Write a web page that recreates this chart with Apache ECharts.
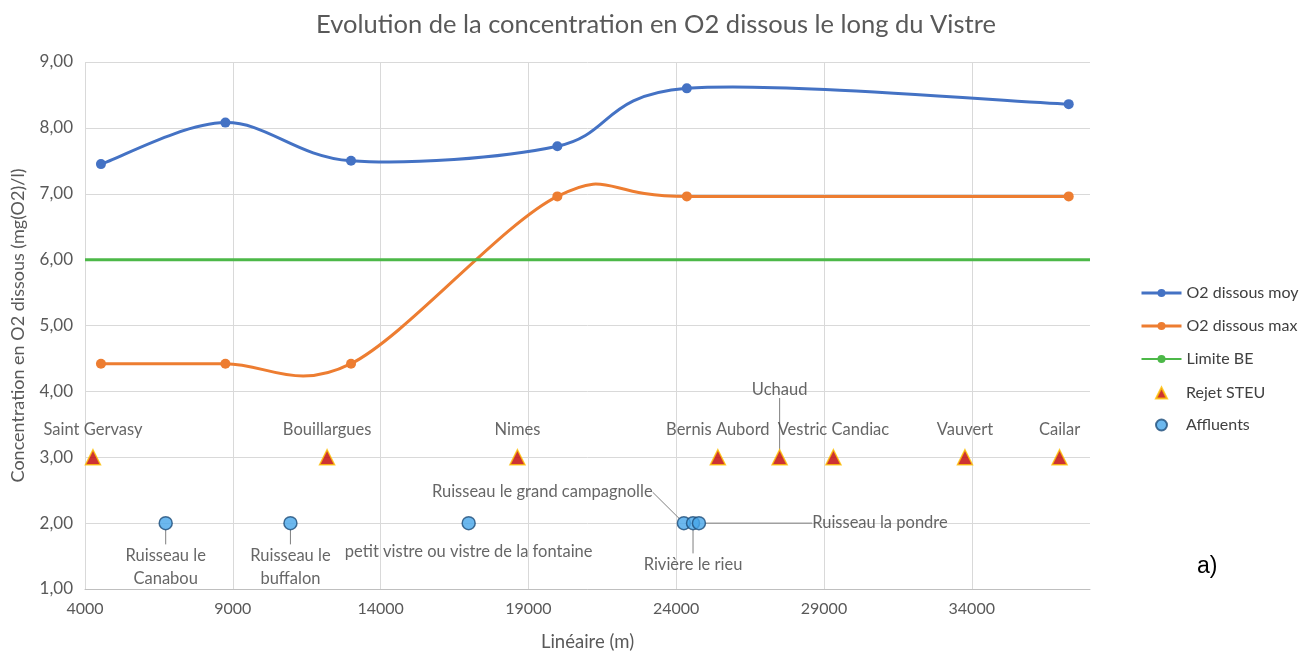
<!DOCTYPE html>
<html>
<head>
<meta charset="utf-8">
<script src="https://cdn.jsdelivr.net/npm/echarts@6/dist/echarts.min.js"></script>
<style>
  html, body { margin: 0; padding: 0; background: #fff; }
  #chart { width: 1315px; height: 651px; }
</style>
</head>
<body>
<div id="chart"></div>
<script>
// Données
var distMesures = [4540, 8750, 13000, 19980, 24360, 37280];
var o2Moy = [7.45, 8.08, 7.50, 7.72, 8.60, 8.36];
var o2Max = [4.42, 4.42, 4.42, 6.96, 6.96, 6.96];
var limiteX = [4000, 38000];
var limiteBE = [6, 6];
var steuNoms = ['Saint Gervasy', 'Bouillargues', 'Nimes', 'Bernis Aubord', 'Uchaud', 'Vestric Candiac', 'Vauvert', 'Cailar'];
var steuX = [4270, 12190, 18630, 25410, 27500, 29320, 33770, 36970];
var steuY = [3, 3, 3, 3, 3, 3, 3, 3];
var affNoms = ['Ruisseau le\nCanabou', 'Ruisseau le\nbuffalon', 'petit vistre ou vistre de la fontaine',
  'Ruisseau le grand campagnolle', 'Rivière le rieu', 'Ruisseau la pondre'];
var affX = [6730, 10950, 16980, 24260, 24570, 24770];
var affY = [2, 2, 2, 2, 2, 2];

(function() {
  var ink = '#595959';
  var labelInk = '#404040';
  var rule = '#d9d9d9';
  var font = 'Lato, "Liberation Sans", sans-serif';
  var blue = '#4472C4', orange = '#ED7D31', green = '#4CB848';

  function pairs(xs, ys) {
    return xs.map(function(x, i) { return [x, ys[i]]; });
  }

  // courbe lissée façon Excel (Catmull-Rom), un segment par point
  function courbe(name, xs, ys, color) {
    var pts = pairs(xs, ys);
    return {
      name: name, type: 'custom', silent: true, z: 2,
      data: pts,
      encode: { x: 0, y: 1 },
      renderItem: function(params, api) {
        var i = params.dataIndex;
        var n = pts.length;
        if (i >= n - 1) return null;
        var p = pts.map(function(d) { return api.coord(d); });
        var p0 = p[Math.max(i - 1, 0)], p1 = p[i], p2 = p[i + 1], p3 = p[Math.min(i + 2, n - 1)];
        return {
          type: 'bezierCurve',
          shape: {
            x1: p1[0], y1: p1[1], x2: p2[0], y2: p2[1],
            cpx1: p1[0] + (p2[0] - p0[0]) / 6, cpy1: p1[1] + (p2[1] - p0[1]) / 6,
            cpx2: p2[0] - (p3[0] - p1[0]) / 6, cpy2: p2[1] - (p3[1] - p1[1]) / 6
          },
          style: { stroke: color, lineWidth: 3, fill: null }
        };
      }
    };
  }

  // placement des étiquettes (comme dans le classeur)
  var steuLabel = { 4: { dy: -40 } };
  var affLabel = {
    0: { position: 'bottom', distance: 14, line: true },
    1: { position: 'bottom', distance: 14, line: true },
    2: { position: 'bottom', distance: 10, line: false },
    3: { position: 'left', distance: 24, dy: -31, line: true },
    4: { position: 'bottom', distance: 23, line: true },
    5: { position: 'right', distance: 106, line: true }
  };

  var steuData = steuX.map(function(x, i) {
    var it = { name: steuNoms[i], value: [x, steuY[i]] };
    if (steuLabel[i]) it.labelLine = { show: true };
    return it;
  });
  var affData = affX.map(function(x, i) {
    var l = affLabel[i];
    return {
      name: affNoms[i],
      value: [x, affY[i]],
      label: { position: l.position, distance: l.distance },
      labelLine: { show: l.line }
    };
  });

  var legendText = { color: labelInk, fontSize: 16, fontFamily: font };

  var chart = echarts.init(document.getElementById('chart'), null, { renderer: 'canvas' });
  chart.setOption({
    animation: false,
    textStyle: { fontFamily: font },
    title: {
      text: 'Evolution de la concentration en O2 dissous le long du Vistre',
      left: 651, top: 7, textAlign: 'center',
      textStyle: { color: ink, fontSize: 25.5, fontWeight: 'normal', fontFamily: font }
    },
    legend: [
      {
        orient: 'vertical',
        left: 1135, top: 280,
        itemWidth: 40, itemHeight: 10, itemGap: 17,
        textStyle: legendText,
        data: [
          { name: 'O2 dissous moy', lineStyle: { opacity: 1, color: blue, width: 3 } },
          { name: 'O2 dissous max', lineStyle: { opacity: 1, color: orange, width: 3 } },
          'Limite BE'
        ]
      },
      {
        orient: 'vertical',
        left: 1150, top: 380,
        itemWidth: 11, itemHeight: 11, itemGap: 16,
        textStyle: Object.assign({ padding: [0, 0, 0, 14] }, legendText),
        data: ['Rejet STEU', 'Affluents']
      }
    ],
    graphic: [{
      type: 'text', left: 1197, top: 555,
      style: { text: 'a)', fill: '#000', font: '23px "Liberation Sans", Arial, sans-serif' }
    }],
    grid: { left: 85, top: 62, width: 1005, height: 527, outerBoundsMode: 'none' },
    xAxis: {
      type: 'value',
      min: 4000, max: 38000, interval: 5000,
      name: 'Linéaire (m)', nameLocation: 'middle', nameGap: 44,
      nameTextStyle: { color: ink, fontSize: 18.5 },
      axisLine: { lineStyle: { color: '#bfbfbf' } },
      axisTick: { show: false },
      axisLabel: {
        color: ink, fontSize: 16, showMaxLabel: false, margin: 12,
        formatter: function(v) { return String(v); }
      },
      splitLine: { show: true, showMaxLine: false, lineStyle: { color: rule } }
    },
    yAxis: {
      type: 'value',
      min: 1, max: 9, interval: 1,
      name: 'Concentration en O2 dissous (mg(O2)/l)', nameLocation: 'middle', nameGap: 58,
      nameTextStyle: { color: ink, fontSize: 18 },
      axisLine: { show: false },
      axisTick: { show: false },
      axisLabel: {
        color: ink, fontSize: 17, margin: 12,
        formatter: function(v) { return v.toFixed(2).replace('.', ','); }
      },
      splitLine: { lineStyle: { color: rule } }
    },
    series: [
      {
        name: 'O2 dissous moy', type: 'line',
        data: pairs(distMesures, o2Moy),
        symbol: 'circle', symbolSize: 10,
        lineStyle: { color: blue, width: 3, opacity: 0 },
        itemStyle: { color: blue }, z: 3
      },
      {
        name: 'O2 dissous max', type: 'line',
        data: pairs(distMesures, o2Max),
        symbol: 'circle', symbolSize: 10,
        lineStyle: { color: orange, width: 3, opacity: 0 },
        itemStyle: { color: orange }, z: 3
      },
      courbe('O2 dissous moy', distMesures, o2Moy, blue),
      courbe('O2 dissous max', distMesures, o2Max, orange),
      {
        name: 'Limite BE', type: 'line',
        data: pairs(limiteX, limiteBE),
        showSymbol: false, symbol: 'none',
        lineStyle: { color: green, width: 3 },
        itemStyle: { color: green }
      },
      {
        name: 'Rejet STEU', type: 'scatter',
        data: steuData,
        symbol: 'triangle', symbolSize: 15,
        itemStyle: { color: '#C00000', borderColor: '#FFC000', borderWidth: 1.5 },
        label: {
          show: true, position: 'top', distance: 11,
          formatter: '{b}', color: labelInk, fontSize: 16.5
        },
        labelLine: { show: false, lineStyle: { color: '#7f7f7f', width: 1 } },
        labelLayout: function(p) {
          var l = steuLabel[p.dataIndex];
          return l ? { dy: l.dy } : {};
        },
        z: 4
      },
      {
        name: 'Affluents', type: 'scatter',
        data: affData,
        symbol: 'circle', symbolSize: 13,
        itemStyle: { color: '#47A6EA', borderColor: '#1F4E79', borderWidth: 1.5 },
        label: {
          show: true, formatter: '{b}', color: labelInk, fontSize: 16.5, lineHeight: 23
        },
        labelLine: { show: false, lineStyle: { color: '#7f7f7f', width: 1 } },
        labelLayout: function(p) {
          var l = affLabel[p.dataIndex];
          return l && l.dy ? { dy: l.dy } : {};
        },
        z: 4
      }
    ]
  });
  window.addEventListener('resize', function() { chart.resize(); });
})();
</script>
</body>
</html>
